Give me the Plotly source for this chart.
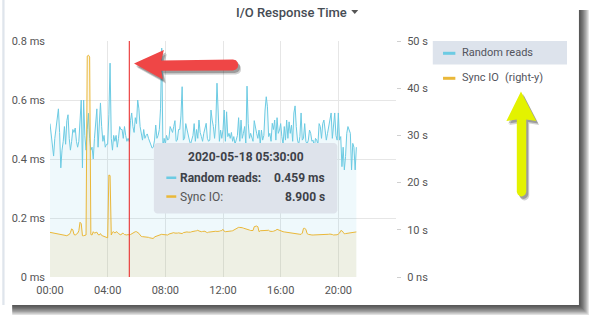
import plotly.graph_objects as go
import pandas as pd

# ---------------- data ----------------
start_time = "2020-05-18 00:00"
step = "5min"

random_reads_ms = [
    0.52, 0.48, 0.44, 0.41, 0.47, 0.50, 0.53, 0.57, 0.49, 0.37, 0.43, 0.46,
    0.51, 0.45, 0.53, 0.55, 0.47, 0.43, 0.46, 0.50, 0.49, 0.505, 0.46, 0.44,
    0.46, 0.52, 0.60, 0.37, 0.60, 0.48, 0.43, 0.50, 0.555, 0.47, 0.43, 0.44,
    0.40, 0.47, 0.53, 0.57, 0.44, 0.50, 0.59, 0.51, 0.46, 0.48, 0.44, 0.45,
    0.45, 0.55, 0.725, 0.47, 0.43, 0.48, 0.46, 0.48, 0.44, 0.47, 0.51, 0.50,
    0.50, 0.47, 0.51, 0.48, 0.46, 0.47, 0.459, 0.53, 0.556, 0.51, 0.49, 0.54,
    0.52, 0.60, 0.57, 0.51, 0.48, 0.464, 0.50, 0.47, 0.48, 0.485, 0.47, 0.46,
    0.45, 0.437, 0.44, 0.464, 0.515, 0.47, 0.48, 0.50, 0.57, 0.776, 0.44, 0.47,
    0.45, 0.48, 0.464, 0.47, 0.51, 0.50, 0.49, 0.51, 0.53, 0.46, 0.464, 0.50,
    0.50, 0.546, 0.645, 0.464, 0.47, 0.52, 0.498, 0.48, 0.464, 0.45, 0.47, 0.48,
    0.52, 0.46, 0.50, 0.47, 0.532, 0.49, 0.476, 0.46, 0.487, 0.50, 0.521, 0.47,
    0.46, 0.464, 0.566, 0.532, 0.51, 0.47, 0.52, 0.657, 0.521, 0.46, 0.498, 0.47,
    0.50, 0.566, 0.46, 0.56, 0.476, 0.487, 0.47, 0.49, 0.46, 0.476, 0.45, 0.464,
    0.48, 0.54, 0.46, 0.532, 0.47, 0.487, 0.51, 0.45, 0.647, 0.521, 0.47, 0.487,
    0.476, 0.46, 0.53, 0.50, 0.487, 0.47, 0.498, 0.45, 0.498, 0.464, 0.48, 0.566,
    0.611, 0.577, 0.476, 0.487, 0.46, 0.521, 0.50, 0.532, 0.464, 0.54, 0.487, 0.498,
    0.52, 0.476, 0.45, 0.51, 0.464, 0.532, 0.47, 0.526, 0.487, 0.515, 0.46, 0.556,
    0.58, 0.51, 0.464, 0.45, 0.476, 0.556, 0.464, 0.47, 0.52, 0.46, 0.45, 0.464,
    0.498, 0.487, 0.46, 0.464, 0.44, 0.47, 0.464, 0.45, 0.52, 0.51, 0.47, 0.52,
    0.532, 0.498, 0.464, 0.487, 0.51, 0.532, 0.556, 0.47, 0.532, 0.556, 0.48, 0.464,
    0.556, 0.464, 0.476, 0.374, 0.44, 0.363, 0.408, 0.487, 0.51, 0.50, 0.487, 0.363,
    0.453, 0.44, 0.363, 0.44,
]

sync_io_s = [
    9.46, 9.4, 9.35, 9.3, 9.3, 9.25, 9.2, 9.1, 9.05, 9.0, 8.9, 8.85,
    8.8, 8.75, 8.75, 8.9, 9.0, 9.4, 10.2, 10.0, 9.0, 8.9, 9.0, 9.25,
    9.8, 11.6, 11.3, 8.75, 8.75, 8.8, 8.9, 46.8, 47.0, 46.6, 9.0, 8.9,
    9.6, 9.3, 9.4, 9.5, 9.0, 8.9, 9.2, 8.8, 8.7, 8.6, 8.5, 8.3,
    8.3, 21.6, 21.5, 8.9, 9.5, 9.6, 9.3, 9.6, 9.5, 9.2, 9.0, 8.9,
    9.25, 9.25, 9.0, 8.9, 8.9, 9.0, 8.9, 9.0, 9.2, 9.2, 9.6, 9.6,
    9.6, 9.5, 9.25, 8.9, 8.6, 8.55, 8.55, 8.5, 8.55, 8.5, 8.4, 8.3,
    8.2, 8.2, 8.15, 8.5, 8.6, 8.7, 8.8, 8.9, 9.0, 9.05, 9.0, 9.0,
    9.0, 9.05, 8.9, 9.1, 9.2, 9.3, 9.35, 9.4, 9.3, 9.25, 9.3, 9.35,
    9.3, 9.25, 9.2, 9.4, 9.5, 9.6, 9.55, 9.5, 9.45, 9.5, 9.6, 9.6,
    9.7, 9.75, 9.8, 9.9, 9.75, 9.6, 9.6, 9.65, 9.7, 9.7, 9.5, 9.4,
    9.5, 9.55, 9.6, 9.65, 9.7, 9.75, 9.7, 9.65, 9.6, 9.7, 9.8, 9.85,
    10.1, 9.7, 9.6, 9.6, 9.6, 9.65, 9.7, 9.75, 9.8, 9.95, 10.1, 10.3,
    10.5, 10.52, 10.5, 10.52, 10.45, 10.35, 10.3, 10.2, 10.1, 10.05, 9.95, 9.85,
    9.82, 9.85, 10.66, 10.8, 10.8, 10.66, 9.6, 9.8, 9.82, 9.8, 9.75, 9.8,
    9.9, 9.96, 9.9, 9.7, 9.6, 9.65, 9.7, 9.75, 9.9, 10.1, 10.0, 9.75,
    9.7, 9.6, 9.6, 9.55, 9.5, 9.46, 9.45, 9.4, 9.39, 9.35, 9.3, 9.25,
    9.2, 9.15, 9.11, 9.1, 9.05, 9.04, 9.3, 10.3, 10.3, 10.1, 9.2, 9.04,
    8.95, 8.9, 8.9, 8.9, 8.9, 8.95, 9.0, 9.04, 9.0, 8.95, 8.9, 8.9,
    8.9, 8.9, 8.95, 9.04, 9.05, 9.1, 9.11, 9.0, 8.9, 8.9, 8.9, 8.95,
    9.1, 9.3, 9.82, 9.8, 9.5, 9.15, 9.2, 9.25, 9.25, 9.3, 9.39, 9.46,
    9.55, 9.6, 9.6, 9.55,
]

x_tick_labels = ["00:00", "04:00", "08:00", "12:00", "16:00", "20:00"]
left_tick_vals = [0, 0.2, 0.4, 0.6, 0.8]
left_tick_text = ["0 ms", "0.2 ms", "0.4 ms", "0.6 ms", "0.8 ms"]
right_tick_vals = [0, 10, 20, 30, 40, 50]
right_tick_text = ["0 ns", "10 s", "20 s", "30 s", "40 s", "50 s"]
series_names = ["Random reads", "Sync IO"]
hover_index = 66  # 05:30

times = pd.date_range(start_time, periods=len(random_reads_ms), freq=step)

BLUE = "#6ccbe3"
YELLOW = "#eab839"
TXT = "#52545c"
FONT = "Roboto"

# ---------- pixel -> paper helpers (plot area 48..396 x 41..277) ----------
PL, PR, PT, PB = 48, 396, 41, 277


def px(x):
    return (x - PL) / (PR - PL)


def py(y):
    return (PB - y) / (PB - PT)


def poly(points):
    return "M " + " L ".join(f"{px(x):.5f},{py(y):.5f}" for x, y in points) + " Z"


def rect(x0, y0, x1, y1, color, layer="above", opacity=1):
    return dict(type="rect", xref="paper", yref="paper", x0=px(x0), x1=px(x1),
                y0=py(y1), y1=py(y0), fillcolor=color, line=dict(width=0),
                layer=layer, opacity=opacity)


def path(points, color, layer="above", opacity=1):
    return dict(type="path", xref="paper", yref="paper", path=poly(points),
                fillcolor=color, line=dict(width=0), layer=layer, opacity=opacity)


def text(x, y, s, size=11, color=TXT, anchor="left", weight="normal"):
    return dict(xref="paper", yref="paper", x=px(x), y=py(y), text=s,
                showarrow=False, xanchor=anchor, yanchor="middle",
                font=dict(family=FONT, size=size, color=color, weight=weight),
                borderpad=0)


fig = go.Figure()
fig.add_trace(go.Scatter(
    x=times, y=random_reads_ms, mode="lines", name=series_names[0],
    line=dict(color=BLUE, width=1), fill="tozeroy",
    fillcolor="rgba(100,200,225,0.10)", yaxis="y"))
fig.add_trace(go.Scatter(
    x=times, y=sync_io_s, mode="lines", name=series_names[1],
    line=dict(color=YELLOW, width=1), fill="tozeroy",
    fillcolor="rgba(234,184,57,0.12)", yaxis="y2"))

shapes = []
# panel shadow
for i in range(8):
    w = 10 - i * 1.2
    shapes.append(dict(type="rect", xref="paper", yref="paper",
                       x0=px(10), x1=px(580 + w), y0=py(305 + w), y1=py(10),
                       fillcolor="black", opacity=0.12, line=dict(width=0),
                       layer="below"))
shapes.append(rect(0, 0, 580, 305, "white", layer="below"))
shapes.append(rect(0, 0, 2.3, 305, "#dfe5ec", layer="below"))

# red hover line
shapes.append(dict(type="line", xref="x", yref="paper",
                   x0=times[hover_index], x1=times[hover_index], y0=0, y1=1,
                   line=dict(color="#e81e1e", width=1), layer="above"))

# tooltip box (rounded)
bx0, by0, bx1, by1, r = 152.5, 143, 337, 213.5, 3
tooltip_pts = [(bx0 + r, by0), (bx1 - r, by0), (bx1 - 1, by0 + 1), (bx1, by0 + r),
               (bx1, by1 - r), (bx1 - 1, by1 - 1), (bx1 - r, by1), (bx0 + r, by1),
               (bx0 + 1, by1 - 1), (bx0, by1 - r), (bx0, by0 + r), (bx0 + 1, by0 + 1)]
shapes.append(path(tooltip_pts, "#dee3eb"))
shapes.append(rect(165, 176.5, 175, 179, BLUE))
shapes.append(rect(165, 195.3, 175, 197.8, YELLOW))

# legend
shapes.append(rect(433, 41, 568, 64.5, "#dde3ec"))
shapes.append(rect(443.3, 51.8, 455.7, 54.8, BLUE))
shapes.append(rect(443.3, 76.8, 455.7, 79.8, YELLOW))

# title caret
shapes.append(path([(351, 10), (358, 10), (354.5, 14)], "#555"))

# arrows
red_arrow = [(132.5, 63.5), (162.5, 50), (160, 60.5), (232, 59.5), (235, 60.3),
             (236.8, 62.5), (237.2, 65), (236.8, 67.5), (235, 69.5), (232, 70.5),
             (160, 70.8), (161.5, 79.5)]
yellow_arrow = [(521.7, 91.5), (537, 121), (527, 119.5), (527, 192), (526, 194.5),
                (524, 196), (522.2, 196.5), (520.4, 196), (518.5, 194.5), (517.5, 192),
                (517.5, 119.5), (507, 121)]
for dx, dy, op in [(3, 4, 0.18), (2, 2.5, 0.25)]:
    shapes.append(path([(x + dx, y + dy) for x, y in red_arrow], "black", opacity=op))
    shapes.append(path([(x + dx, y + dy) for x, y in yellow_arrow], "black", opacity=op))
shapes.append(path(red_arrow, "#ef4646"))
shapes.append(path(yellow_arrow, "#e3f200"))

annotations = [
    dict(xref="paper", yref="paper", x=px(290.5), y=py(12.5),
         text="I/O Response Time", showarrow=False, xanchor="center",
         yanchor="middle", font=dict(family=FONT, size=13, color="#464c54", weight=500)),
    text(461, 52.8, series_names[0]),
    text(461, 77.8, series_names[1]),
    text(505, 77.8, "(right-y)"),
    text(244.8, 157, str(times[hover_index]), size=12, color="#3d4148",
         anchor="center", weight="bold"),
    text(178, 177.8, series_names[0] + ":", size=12, color="#3d4148", weight="bold"),
    text(326, 177.8, f"{random_reads_ms[hover_index]:.3f} ms", size=12,
         color="#3d4148", anchor="right", weight="bold"),
    text(178, 196.8, series_names[1] + ":", size=12, color="#555"),
    text(326, 196.8, f"{sync_io_s[hover_index]:.3f} s", size=12,
         color="#3d4148", anchor="right", weight="bold"),
]

day = start_time.split(" ")[0]
fig.update_layout(
    width=598, height=323,
    margin=dict(l=PL, r=598 - PR, t=PT, b=323 - PB, pad=0),
    paper_bgcolor="white", plot_bgcolor="rgba(0,0,0,0)",
    showlegend=False,
    font=dict(family=FONT, size=11, color="#555"),
    xaxis=dict(type="date", range=[f"{day} 00:00", "2020-05-19 00:00"],
               tickvals=[f"{day} {t}" for t in x_tick_labels], ticktext=x_tick_labels,
               showgrid=True, gridcolor="#e6e6e6", gridwidth=1, zeroline=False,
               showline=False, ticks="", ticklabelstandoff=5,
               tickfont=dict(size=11, color="#555")),
    yaxis=dict(range=[0, 0.8], tickvals=left_tick_vals, ticktext=left_tick_text,
               showgrid=True, gridcolor="#e6e6e6", zeroline=False, showline=False,
               ticks="", ticklabelstandoff=4, tickfont=dict(size=11, color="#555")),
    yaxis2=dict(range=[0, 50], overlaying="y", side="right", anchor="x",
                tickvals=right_tick_vals, ticktext=right_tick_text, showgrid=False,
                zeroline=False, showline=False, ticks="outside", ticklen=4,
                tickcolor="#d0d0d0", tickwidth=1, ticklabelstandoff=4,
                tickfont=dict(size=11, color="#555")),
    shapes=shapes,
    annotations=annotations,
)

fig.write_html("out.html")
